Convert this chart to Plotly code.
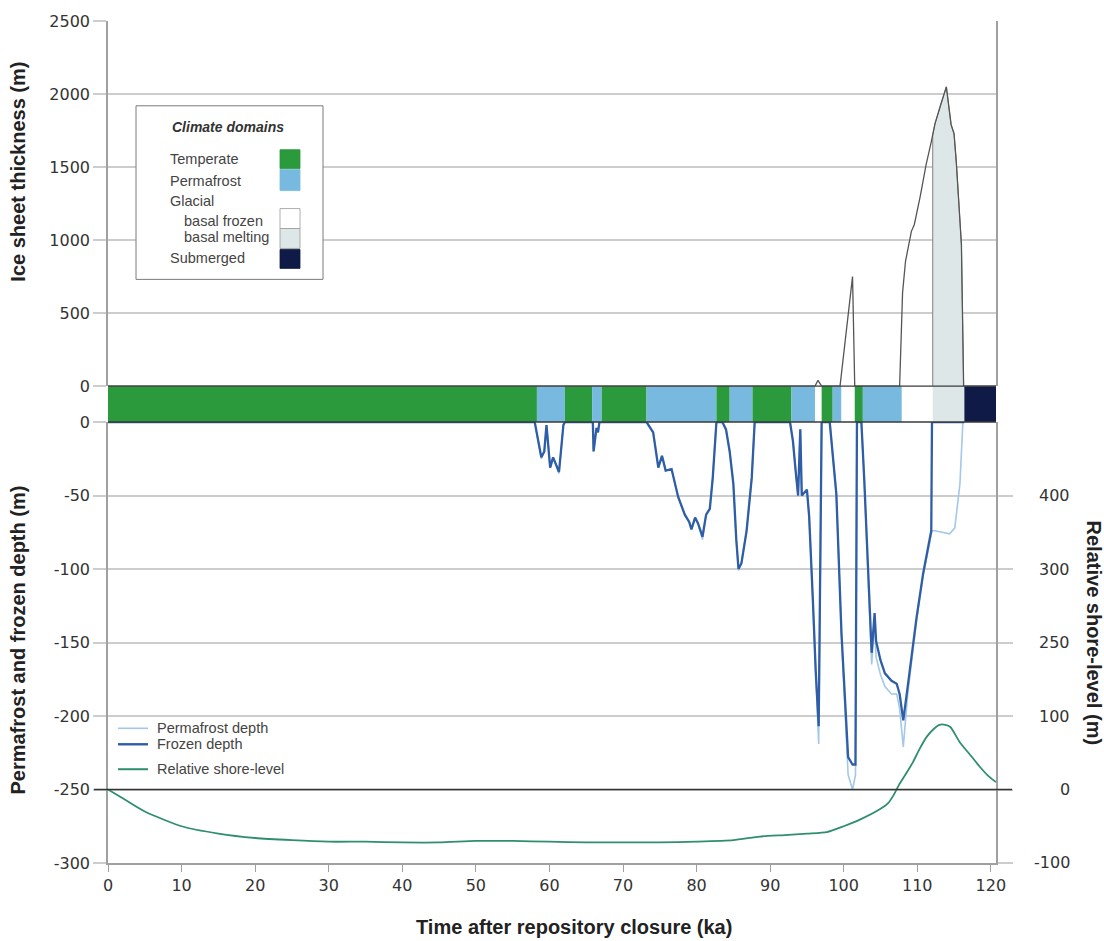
import plotly.graph_objects as go

# ---------------- data ----------------
# Ice sheet thickness (m) vs time (ka)
ice_t = [0, 96.1, 96.5, 97.0, 99.5, 100.4, 101.2, 101.5, 107.6, 108.0, 108.4, 109.2, 109.6,
         110.4, 111.2, 111.9, 112.1, 112.4, 113.2, 113.95, 114.6, 115.0, 115.3, 116.0, 116.3, 120.7]
ice_h = [0, 0, 40, 0, 0, 380, 750, 0, 0, 640, 855, 1060, 1107,
         1300, 1516, 1673, 1720, 1796, 1930, 2049, 1790, 1728, 1537, 970, 0, 0]

# Permafrost depth and frozen depth (m) vs time (ka)
depth_t = [0, 58.0, 58.9, 59.3, 59.6, 60.1, 60.5, 61.0, 61.3, 61.9, 62.1,
           65.9, 66.0, 66.4, 66.6, 66.8,
           73.2, 74.1, 74.5, 74.8, 75.3, 75.8, 76.6, 77.1, 77.5, 78.4, 79.0, 79.3, 79.8, 80.2,
           80.8, 81.3, 81.8, 82.2, 82.6, 82.7,
           83.5, 84.0, 84.5, 85.0, 85.4, 85.7, 86.1, 86.8, 87.5, 87.9,
           92.7, 93.1, 93.5, 93.8, 94.1, 94.3, 95.0, 95.3, 95.8, 96.2, 96.6, 96.9, 97.0,
           98.1, 98.6, 99.0, 99.7, 100.3, 100.6, 101.2, 101.6, 101.8,
           102.4, 102.8, 103.1, 103.8, 104.2, 104.4, 105.0, 105.6, 106.5, 107.2, 107.6, 108.1,
           108.7, 109.3, 109.9, 110.8, 111.9, 112.0, 112.4, 114.4, 115.1, 115.8, 116.2, 116.4]
frozen_d = [0, 0, -24, -20, -2, -31, -24, -30, -34, -2, 0,
            0, -20, -4, -7, 0,
            0, -7, -20, -31, -23, -33, -32, -42, -51, -63, -68, -73, -65, -69,
            -78, -63, -59, -38, -2, 0,
            0, -5, -20, -42, -80, -100, -96, -74, -38, 0,
            0, -13, -35, -50, -5, -50, -46, -64, -120, -170, -207, -60, 0,
            0, -25, -49, -144, -205, -228, -233, -233, 0,
            0, -40, -76, -157, -130, -149, -162, -171, -176, -178, -185, -203,
            -180, -155, -133, -103, -74, 0, 0, 0, 0, 0, 0, 0]
perma_d = [0, 0, -25, -20, -2, -31, -24, -30, -35, -2, 0,
           0, -20, -4, -7, 0,
           0, -7, -20, -31, -23, -33, -32, -42, -51, -63, -68, -73, -65, -69,
           -80, -63, -59, -38, -2, 0,
           0, -5, -20, -42, -80, -101, -96, -74, -38, 0,
           0, -13, -35, -50, -5, -50, -46, -64, -122, -175, -219, -60, 0,
           0, -25, -49, -146, -212, -240, -250, -240, 0,
           0, -40, -76, -165, -135, -160, -172, -180, -185, -185, -195, -221,
           -185, -158, -135, -104, -74, -74, -74, -76, -72, -42, 0, 0]

# Relative shore-level (m) vs time (ka)
shore_t = [0, 2, 5, 10, 15, 20, 25, 30, 35, 40, 45, 50, 55, 60, 65, 70, 75, 80, 85, 88.6,
           92, 95, 97.7, 100, 102.2, 104.9, 106.0, 106.7, 107.5, 108.5, 109.4, 110.3, 111.3,
           112.2, 113.0, 113.8, 114.5, 115.8, 117.2, 118.5, 119.5, 120.7]
shore_lv = [0, -12, -30, -50, -60, -66, -69, -71, -71, -72, -72, -70, -70, -71, -72, -72,
            -72, -71, -69, -64, -62, -60, -58, -50, -41, -27, -19, -9, 6, 22, 37, 55, 72,
            82, 88, 88, 85, 64, 47, 31, 20, 10]

# Climate domains along the time axis
dom_start = [0, 58.3, 62.1, 65.8, 67.1, 73.2, 82.7, 84.5, 87.6, 92.9, 96.1, 97.0, 98.5,
             99.7, 101.5, 102.6, 107.9, 112.1, 116.4]
dom_end = [58.3, 62.1, 65.8, 67.1, 73.2, 82.7, 84.5, 87.6, 92.9, 96.1, 97.0, 98.5, 99.7,
           101.5, 102.6, 107.9, 112.1, 116.4, 120.7]
dom_kind = ["temperate", "permafrost", "temperate", "permafrost", "temperate", "permafrost",
            "temperate", "permafrost", "temperate", "permafrost", "frozen", "temperate",
            "permafrost", "frozen", "temperate", "permafrost", "frozen", "melting", "submerged"]

legend_labels = ["Temperate", "Permafrost", "basal frozen", "basal melting", "Submerged"]
legend_kinds = ["temperate", "permafrost", "frozen", "melting", "submerged"]

x_ticks = list(range(0, 121, 10))
ice_ticks = [0, 500, 1000, 1500, 2000, 2500]
depth_ticks = [-300, -250, -200, -150, -100, -50, 0]
shore_tickvals = [-100, 0, 100, 200, 300, 400]
shore_ticktext = ["-100", "0", "100", "250", "300", "400"]

# ---------------- styling ----------------
DOM_COLOR = {"temperate": "#2a9a3d", "permafrost": "#78badf", "frozen": "#ffffff",
             "melting": "#dde7e7", "submerged": "#0f1a46"}
FROZEN_C = "#2f5ea7"
PERMA_C = "#a3c8e8"
SHORE_C = "#2f8f6c"
GRID_C = "#cdcdcd"
AXIS_C = "#a0a0a0"
TICKFONT = dict(family="DejaVu Sans", size=16, color="#333333")
TITLEFONT = dict(family="Liberation Sans, Arial", size=20, color="#222222")
LEGFONT = dict(family="Liberation Sans, Arial", size=14.5, color="#444444")

X_MAX = dom_end[-1]
W_PX, H_PX = 1104, 941
L, R, T, B = 108, 108, 19, 78
PW, PH = W_PX - L - R, H_PX - T - B


def px(x):
    return (x - L) / PW


def py(y):
    return (H_PX - B - y) / PH


bar_lo, bar_hi = py(421), py(385)

fig = go.Figure()

# depth lines (bottom panel)
fig.add_trace(go.Scatter(x=depth_t, y=perma_d, mode="lines", name="Permafrost depth",
                         line=dict(color=PERMA_C, width=1.6), xaxis="x", yaxis="y",
                         showlegend=False))
fig.add_trace(go.Scatter(x=depth_t, y=frozen_d, mode="lines", name="Frozen depth",
                         line=dict(color=FROZEN_C, width=2.3), xaxis="x", yaxis="y",
                         showlegend=False))
# shore level (right axis)
fig.add_trace(go.Scatter(x=shore_t, y=shore_lv, mode="lines", name="Relative shore-level",
                         line=dict(color=SHORE_C, width=1.8, shape="spline", smoothing=0.6),
                         xaxis="x", yaxis="y3", showlegend=False))

# ice sheet: basal melting area filled
mi = dom_kind.index("melting")
m0, m1 = dom_start[mi], dom_end[mi]
sel = [(t, h) for t, h in zip(ice_t, ice_h) if m0 <= t <= m1]
fill_x = [m0] + [t for t, _ in sel]
fill_y = [0] + [h for _, h in sel]
fig.add_trace(go.Scatter(x=fill_x, y=fill_y, mode="lines", fill="toself",
                         fillcolor=DOM_COLOR["melting"], line=dict(color="#808080", width=1),
                         xaxis="x2", yaxis="y2", showlegend=False, hoverinfo="skip"))
fig.add_trace(go.Scatter(x=ice_t, y=ice_h, mode="lines", name="Ice sheet thickness",
                         line=dict(color="#555555", width=1.3), xaxis="x2", yaxis="y2",
                         showlegend=False))

shapes = []
# climate domain bar
for s, e, k in zip(dom_start, dom_end, dom_kind):
    shapes.append(dict(type="rect", xref="x", yref="paper", x0=s, x1=e, y0=bar_lo, y1=bar_hi,
                       fillcolor=DOM_COLOR[k], line=dict(width=0), layer="above"))
for yy in (bar_lo, bar_hi):
    shapes.append(dict(type="line", xref="x", yref="paper", x0=0, x1=X_MAX, y0=yy, y1=yy,
                       line=dict(color="#3a3a3a", width=1.4), layer="above"))
# shore-level zero line
shapes.append(dict(type="line", xref="paper", yref="y", x0=px(94), x1=px(1012), y0=-250,
                   y1=-250, line=dict(color="#333333", width=1.3), layer="above"))

annotations = []
# right-axis tick labels (right aligned, as in the reference)
for v, s in zip(shore_tickvals, shore_ticktext):
    annotations.append(dict(x=px(1072), y=v, xref="paper", yref="y3", showarrow=False,
                            text=s, xanchor="right", yanchor="middle", font=TICKFONT))

# climate domain legend box
shapes.append(dict(type="rect", xref="paper", yref="paper", x0=px(136), x1=px(323),
                   y0=py(278), y1=py(104), fillcolor="white",
                   line=dict(color="#7a7a7a", width=1), layer="above"))
annotations.append(dict(x=px(228), y=py(125), xref="paper", yref="paper", showarrow=False,
                        text="<b><i>Climate domains</i></b>", xanchor="center", yanchor="middle",
                        font=dict(family="Liberation Sans, Arial", size=14, color="#333333")))
leg_text_pos = {"Temperate": (168, 157), "Permafrost": (168, 179), "basal frozen": (182, 219),
                "basal melting": (182, 236), "Submerged": (168, 257)}
leg_box_pos = {"temperate": (148, 167), "permafrost": (168, 189), "frozen": (207, 227),
               "melting": (227, 247), "submerged": (248, 267)}
annotations.append(dict(x=px(168), y=py(199), xref="paper", yref="paper", showarrow=False,
                        text="Glacial", xanchor="left", yanchor="middle", font=LEGFONT))
for lab, k in zip(legend_labels, legend_kinds):
    tx, ty = leg_text_pos[lab]
    annotations.append(dict(x=px(tx), y=py(ty), xref="paper", yref="paper", showarrow=False,
                            text=lab, xanchor="left", yanchor="middle", font=LEGFONT))
    y0, y1 = leg_box_pos[k]
    border = "#9a9a9a" if k in ("frozen", "melting") else DOM_COLOR[k]
    shapes.append(dict(type="rect", xref="paper", yref="paper", x0=px(280), x1=px(300),
                       y0=py(y1), y1=py(y0), fillcolor=DOM_COLOR[k],
                       line=dict(color=border, width=0.8), layer="above"))

# line legend (bottom left)
line_leg = [("Permafrost depth", PERMA_C, 1.6, 728), ("Frozen depth", FROZEN_C, 2.4, 744),
            ("Relative shore-level", SHORE_C, 2.0, 769)]
for lab, col, wd, yy in line_leg:
    shapes.append(dict(type="line", xref="paper", yref="paper", x0=px(118), x1=px(148),
                       y0=py(yy), y1=py(yy), line=dict(color=col, width=wd), layer="above"))
    annotations.append(dict(x=px(155), y=py(yy), xref="paper", yref="paper", showarrow=False,
                            text=lab, xanchor="left", yanchor="middle", font=LEGFONT))

# axis titles
annotations.append(dict(x=px(18), y=py(170), xref="paper", yref="paper", showarrow=False,
                        text="<b>Ice sheet thickness (m)</b>", textangle=-90,
                        xanchor="center", yanchor="middle", font=TITLEFONT))
annotations.append(dict(x=px(18), y=py(640), xref="paper", yref="paper", showarrow=False,
                        text="<b>Permafrost and frozen depth (m)</b>", textangle=-90,
                        xanchor="center", yanchor="middle", font=TITLEFONT))
annotations.append(dict(x=px(1094), y=py(632), xref="paper", yref="paper", showarrow=False,
                        text="<b>Relative shore-level (m)</b>", textangle=90,
                        xanchor="center", yanchor="middle", font=TITLEFONT))
annotations.append(dict(x=px(574), y=py(927), xref="paper", yref="paper", showarrow=False,
                        text="<b>Time after repository closure (ka)</b>",
                        xanchor="center", yanchor="middle", font=TITLEFONT))

fig.update_layout(
    width=W_PX, height=H_PX,
    margin=dict(l=L, r=R, t=T, b=B),
    paper_bgcolor="white", plot_bgcolor="white",
    showlegend=False,
    shapes=shapes, annotations=annotations,
    xaxis=dict(domain=[0, 1], range=[0, X_MAX], anchor="y", tickvals=x_ticks,
               ticktext=[str(v) for v in x_ticks],
               ticks="outside", ticklen=7, tickwidth=1.2, tickcolor=AXIS_C,
               showline=True, linecolor=AXIS_C, linewidth=1.5, showgrid=False,
               zeroline=False, tickfont=TICKFONT),
    xaxis2=dict(matches="x", anchor="y2", showticklabels=False, ticks="", showline=False,
                showgrid=False, zeroline=False),
    yaxis=dict(domain=[0, bar_lo], range=[-300, 0], tickvals=depth_ticks,
               ticktext=[str(v) for v in depth_ticks], anchor="x",
               ticks="outside", ticklen=13, tickwidth=1.5, tickcolor=GRID_C,
               showline=True, linecolor=AXIS_C, linewidth=1.5, showgrid=True,
               gridcolor=GRID_C, gridwidth=1.5, zeroline=False, tickfont=TICKFONT),
    yaxis2=dict(domain=[bar_hi, 1], range=[0, 2500], tickvals=ice_ticks,
                ticktext=[str(v) for v in ice_ticks], anchor="x2",
                ticks="outside", ticklen=13, tickwidth=1.5, tickcolor=GRID_C,
                showline=True, mirror=True, linecolor=AXIS_C, linewidth=1.5, showgrid=True,
                gridcolor=GRID_C, gridwidth=1.5, zeroline=False, tickfont=TICKFONT),
    yaxis3=dict(overlaying="y", side="right", anchor="x", range=[-100, 500],
                tickvals=shore_tickvals, showticklabels=False,
                ticks="outside", ticklen=15, tickwidth=1.5, tickcolor=GRID_C,
                showline=True, linecolor=AXIS_C, linewidth=1.5, showgrid=False,
                zeroline=False),
)

fig.write_html("out.html")
